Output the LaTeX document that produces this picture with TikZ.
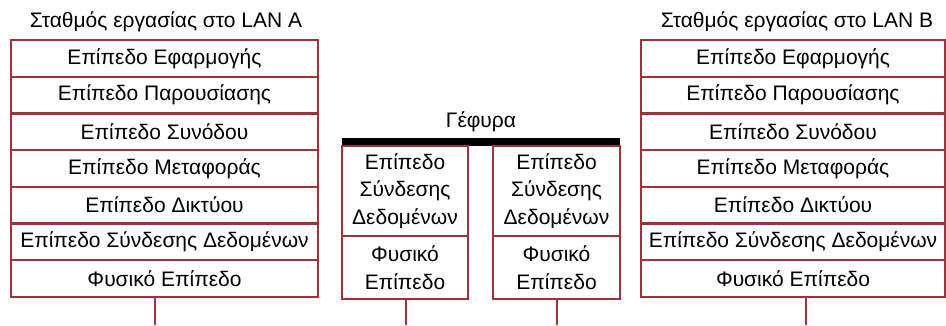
\documentclass[tikz,border=0pt]{standalone}
\usepackage{fontspec}
\setmainfont{Liberation Sans}
\definecolor{boxred}{RGB}{160,50,58}
\begin{document}
\begin{tikzpicture}[x=1pt,y=-1pt,
  layer/.style={draw=boxred,line width=2.4pt,inner sep=0pt,font=\fontsize{21}{27.5}\selectfont,align=center},
  lbl/.style={inner sep=0pt,font=\fontsize{21}{27.5}\selectfont},
  wire/.style={draw=boxred,line width=2.4pt}]
\useasboundingbox (0,0) rectangle (946,325);
% Left station
\node[lbl] (tA) at (166,22) {Σταθμός εργασίας στο LAN A};
\foreach \t [count=\i] in {Επίπεδο Εφαρμογής,Επίπεδο Παρουσίασης,Επίπεδο Συνόδου,Επίπεδο Μεταφοράς,Επίπεδο Δικτύου,Επίπεδο Σύνδεσης Δεδομένων,Φυσικό Επίπεδο}{
  \node[layer,minimum width=307pt,minimum height=36.7pt] (a\i) at (164.5,{40+36.7*(\i-0.5)}) {\t};
}
% Right station
\node[lbl] (tB) at (797,22) {Σταθμός εργασίας στο LAN B};
\foreach \t [count=\i] in {Επίπεδο Εφαρμογής,Επίπεδο Παρουσίασης,Επίπεδο Συνόδου,Επίπεδο Μεταφοράς,Επίπεδο Δικτύου,Επίπεδο Σύνδεσης Δεδομένων,Φυσικό Επίπεδο}{
  \node[layer,minimum width=304pt,minimum height=36.7pt] (b\i) at (793,{40+36.7*(\i-0.5)}) {\t};
}
% Bridge
\node[lbl] (tG) at (481,122) {Γέφυρα};
\node[fill=black,inner sep=0pt,minimum width=278pt,minimum height=8pt] (bar) at (481,142) {};
\node[layer,minimum width=126pt,minimum height=90pt] (g1) at (405,191) {Επίπεδο\\Σύνδεσης\\Δεδομένων};
\node[layer,minimum width=126pt,minimum height=63pt] (g2) at (405,267.5) {Φυσικό\\Επίπεδο};
\node[layer,minimum width=127pt,minimum height=90pt] (h1) at (556.5,191) {Επίπεδο\\Σύνδεσης\\Δεδομένων};
\node[layer,minimum width=127pt,minimum height=63pt] (h2) at (556.5,267.5) {Φυσικό\\Επίπεδο};
% wires
\coordinate (wa) at (155,325);
\coordinate (wb) at (806,325);
\coordinate (wg) at (406,325);
\coordinate (wh) at (557,325);
\draw[wire] (a7.south -| wa) -- (wa);
\draw[wire] (b7.south -| wb) -- (wb);
\draw[wire] (g2.south -| wg) -- (wg);
\draw[wire] (h2.south -| wh) -- (wh);
\end{tikzpicture}
\end{document}
